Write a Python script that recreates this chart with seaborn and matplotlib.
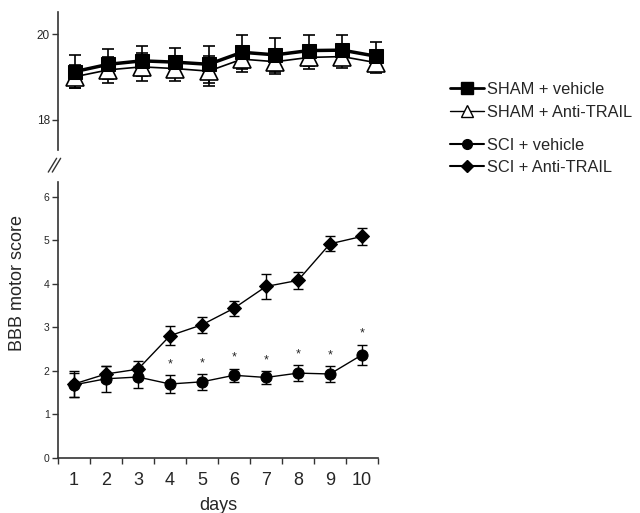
import matplotlib
matplotlib.use("Agg")
import matplotlib.pyplot as plt
import seaborn as sns
from matplotlib.lines import Line2D

# Data
days = [1, 2, 3, 4, 5, 6, 7, 8, 9, 10]
day_labels = ["1", "2", "3", "4", "5", "6", "7", "8", "9", "10"]

sham_vehicle = [19.13, 19.30, 19.38, 19.35, 19.30, 19.58, 19.52, 19.62, 19.63, 19.49]
sham_vehicle_err = [0.39, 0.35, 0.35, 0.33, 0.43, 0.40, 0.40, 0.36, 0.35, 0.34]
sham_anti = [19.01, 19.17, 19.24, 19.20, 19.14, 19.42, 19.36, 19.46, 19.48, 19.34]
sham_anti_err = [0.27, 0.30, 0.33, 0.28, 0.35, 0.29, 0.29, 0.26, 0.26, 0.24]

sci_vehicle = [1.68, 1.82, 1.86, 1.70, 1.75, 1.90, 1.85, 1.95, 1.93, 2.37]
sci_vehicle_err = [0.28, 0.30, 0.25, 0.20, 0.18, 0.15, 0.15, 0.18, 0.18, 0.23]
sci_anti = [1.70, 1.93, 2.04, 2.81, 3.06, 3.44, 3.94, 4.08, 4.92, 5.09]
sci_anti_err = [0.30, 0.18, 0.18, 0.22, 0.18, 0.17, 0.29, 0.20, 0.17, 0.20]

star_days = [4, 5, 6, 7, 8, 9, 10]

sns.set_theme(style="white")
plt.rcParams["font.family"] = ["Liberation Sans", "DejaVu Sans"]

fig = plt.figure(figsize=(6.4, 5.13), dpi=100)
ax_top = fig.add_axes([58.3 / 640, (513 - 150) / 513, 334 / 640, 138 / 513])
ax = fig.add_axes([58 / 640, (513 - 458) / 513, 320 / 640, 276 / 513])

# ---- top panel: sham groups ----
ax_top.errorbar(days, sham_anti, yerr=sham_anti_err, fmt="none", ecolor="black",
                elinewidth=1.2, capsize=4, capthick=1.2)
ax_top.errorbar(days, sham_vehicle, yerr=sham_vehicle_err, fmt="none", ecolor="black",
                elinewidth=1.2, capsize=4, capthick=1.2)
sns.lineplot(x=days, y=sham_anti, ax=ax_top, color="black", lw=1.2, marker="^",
             markersize=13, markerfacecolor="white", markeredgecolor="black",
             markeredgewidth=1.2)
sns.lineplot(x=days, y=sham_vehicle, ax=ax_top, color="black", lw=2.5, marker="s",
             markersize=10, markerfacecolor="black", markeredgecolor="black")

ax_top.set_xlim(0.5, 10.5)
ax_top.set_ylim(17.3, 20.52)
ax_top.set_yticks([18, 20])
ax_top.set_yticklabels(["18", "20"], fontsize=8.5)
ax_top.set_xticks([])
for s in ["top", "right", "bottom"]:
    ax_top.spines[s].set_visible(False)
ax_top.spines["left"].set_color("#333333")
ax_top.spines["left"].set_linewidth(1.2)
ax_top.tick_params(axis="y", left=True, length=4, width=1, color="#333333", pad=2)

# axis break marks
for dx in (0.0, 0.012):
    ax_top.plot([-0.03 + dx, -0.005 + dx], [-0.16, -0.06], transform=ax_top.transAxes,
                color="#333333", lw=1, clip_on=False)

# ---- bottom panel: SCI groups ----
ax.errorbar(days, sci_vehicle, yerr=sci_vehicle_err, fmt="none", ecolor="black",
            elinewidth=1, capsize=3.5, capthick=1)
ax.errorbar(days, sci_anti, yerr=sci_anti_err, fmt="none", ecolor="black",
            elinewidth=1, capsize=3.5, capthick=1)
sns.lineplot(x=days, y=sci_vehicle, ax=ax, color="black", lw=1, marker="o",
             markersize=8, markeredgecolor="black")
sns.lineplot(x=days, y=sci_anti, ax=ax, color="black", lw=1, marker="D",
             markersize=7, markeredgecolor="black")

for d in star_days:
    i = days.index(d)
    ax.text(d, sci_vehicle[i] + sci_vehicle_err[i] + 0.25, "*", ha="center",
            va="center", fontsize=9)

ax.set_xlim(0.5, 10.5)
ax.set_ylim(0, 6.34)
ax.set_yticks([0, 1, 2, 3, 4, 5, 6])
ax.set_yticklabels(["0", "1", "2", "3", "4", "5", "6"], fontsize=7.5)
ax.set_xticks(days)
ax.set_xticklabels(day_labels, fontsize=13)
ax.set_xticks([d + 0.5 for d in [0] + days], minor=True)
ax.tick_params(axis="x", which="major", length=0, pad=10)
ax.tick_params(axis="x", which="minor", bottom=True, length=4, width=1, color="#333333")
ax.tick_params(axis="y", left=True, length=4, width=1, color="#333333", pad=2)
for s in ["top", "right"]:
    ax.spines[s].set_visible(False)
for s in ["left", "bottom"]:
    ax.spines[s].set_color("#333333")
    ax.spines[s].set_linewidth(1.2)
ax.set_xlabel("days", fontsize=13, labelpad=6)
fig.text(18 / 640, (513 - 283) / 513, "BBB motor score", rotation=90,
         ha="center", va="center", fontsize=13)

# ---- legends ----
h_sham = [
    Line2D([], [], color="black", lw=2, marker="s", markersize=8),
    Line2D([], [], color="black", lw=1, marker="^", markersize=9,
           markerfacecolor="white"),
]
h_sci = [
    Line2D([], [], color="black", lw=1.5, marker="o", markersize=7),
    Line2D([], [], color="black", lw=1.5, marker="D", markersize=6),
]
leg1 = fig.legend(h_sham, ["SHAM + vehicle", "SHAM + Anti-TRAIL"], loc="upper left",
                  bbox_to_anchor=(435 / 640, 1 - 67 / 513), frameon=False, fontsize=11.8,
                  handlelength=2.1, handletextpad=0.2, labelspacing=0.5)
leg2 = fig.legend(h_sci, ["SCI + vehicle", "SCI + Anti-TRAIL"], loc="upper left",
                  bbox_to_anchor=(435 / 640, 1 - 123 / 513), frameon=False, fontsize=11.8,
                  handlelength=2.1, handletextpad=0.2, labelspacing=0.45)

fig.savefig("out.png", dpi=100)
